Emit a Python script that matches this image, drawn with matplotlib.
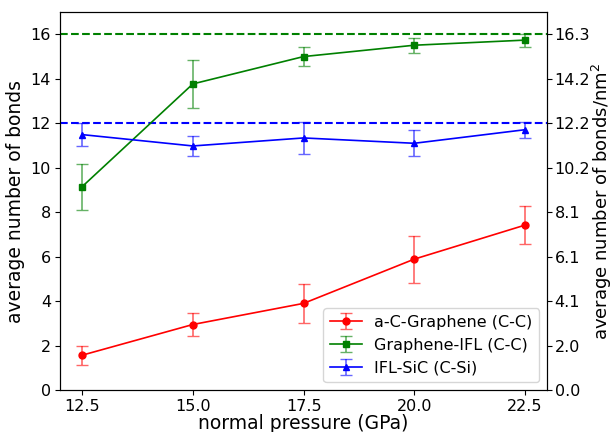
import matplotlib
matplotlib.use("Agg")
import matplotlib.pyplot as plt

pressure = [12.5, 15.0, 17.5, 20.0, 22.5]

ac_graphene = [1.57, 2.95, 3.90, 5.89, 7.42]
ac_graphene_err = [0.42, 0.50, 0.89, 1.06, 0.85]

graphene_ifl = [9.15, 13.77, 15.00, 15.51, 15.74]
graphene_ifl_err = [1.03, 1.07, 0.41, 0.34, 0.29]

ifl_sic = [11.49, 10.98, 11.34, 11.10, 11.71]
ifl_sic_err = [0.50, 0.45, 0.73, 0.59, 0.35]

graphene_ifl_max = 16
ifl_sic_max = 12

left_ticks = [0, 2, 4, 6, 8, 10, 12, 14, 16]
right_tick_labels = ["0.0", "2.0", "4.1", "6.1", "8.1", "10.2", "12.2", "14.2", "16.3"]
x_ticks = [12.5, 15.0, 17.5, 20.0, 22.5]

fig = plt.figure(figsize=(6.15, 4.32), dpi=100)
ax = fig.add_axes([0.0976, 0.097, 0.792, 0.875])

series = [
    (ac_graphene, ac_graphene_err, "red", "o", 5, "a-C-Graphene (C-C)"),
    (graphene_ifl, graphene_ifl_err, "green", "s", 5, "Graphene-IFL (C-C)"),
    (ifl_sic, ifl_sic_err, "blue", "^", 5, "IFL-SiC (C-Si)"),
]
for vals, errs, color, marker, ms, label in series:
    cont = ax.errorbar(pressure, vals, yerr=errs, color=color, marker=marker,
                       markersize=ms, capsize=4, linewidth=1.2,
                       elinewidth=1.2, label=label)
    for cap in cont[1]:
        cap.set_alpha(0.6)
    for bar in cont[2]:
        bar.set_alpha(0.6)

ax.axhline(graphene_ifl_max, color="green", linestyle="--", linewidth=1.5)
ax.axhline(ifl_sic_max, color="blue", linestyle="--", linewidth=1.5)

ax.set_xlim(12.0, 23.0)
ax.set_ylim(0, 17)
ax.set_xticks(x_ticks)
ax.set_xticklabels([f"{v:.1f}" for v in x_ticks])
ax.set_yticks(left_ticks)
ax.tick_params(labelsize=11.5, pad=3)
ax.set_xlabel("normal pressure (GPa)", fontsize=13.5, labelpad=0)
ax.set_ylabel("average number of bonds", fontsize=13.5, labelpad=4)

ax2 = ax.twinx()
ax2.set_ylim(ax.get_ylim())
ax2.set_yticks(left_ticks)
ax2.set_yticklabels(right_tick_labels)
ax2.tick_params(labelsize=11.5, pad=2)
ax2.set_ylabel("average number of bonds/nm$^2$", fontsize=13, labelpad=0)

ax.legend(loc="lower right", fontsize=11.5)

fig.savefig("out.png", dpi=100)
